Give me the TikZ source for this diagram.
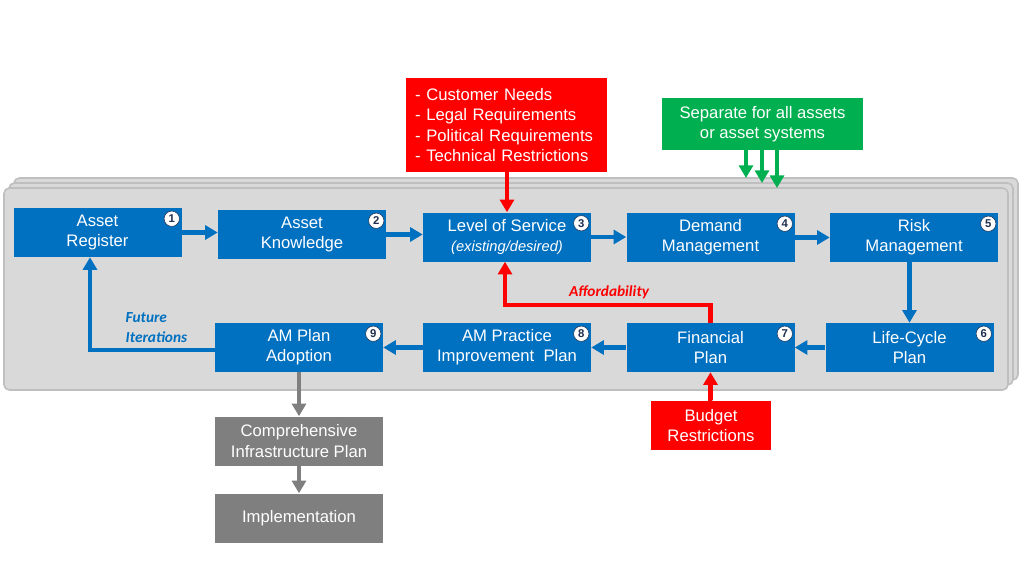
\documentclass[tikz,border=0pt]{standalone}
\usepackage{fontspec}
\setmainfont{Liberation Sans}
\newfontfamily\calfont{Carlito}
\usetikzlibrary{arrows.meta}
\definecolor{mblue}{HTML}{0070C0}
\definecolor{mred}{HTML}{FF0000}
\definecolor{mgreen}{HTML}{00B050}
\definecolor{mgray}{HTML}{7F7F7F}
\definecolor{panelfill}{HTML}{D9D9D9}
\definecolor{panelline}{HTML}{BFBFBF}
\definecolor{numcol}{HTML}{1F2D4E}
\begin{document}
\begin{tikzpicture}[x=0.75pt,y=-0.75pt,
  box/.style={fill=mblue,text=white,minimum width=126pt,minimum height=36.75pt,inner sep=0pt,align=center,font=\fontsize{12.5}{15.2}\selectfont},
  graybox/.style={box,fill=mgray},
  redbox/.style={box,fill=mred},
  numc/.style={circle,fill=white,draw=numcol,line width=0.4pt,inner sep=0pt,minimum size=11.5pt,text=numcol,font=\fontsize{8.5}{8.5}\selectfont\bfseries},
  panel/.style={fill=panelfill,draw=panelline,line width=1.2pt,rounded corners=4pt},
  barrow/.style={draw=mblue,line width=3.4pt,-{Triangle[width=10.5pt,length=9.5pt]}},
  rarrow/.style={draw=mred,line width=3.4pt,-{Triangle[width=10.5pt,length=9.5pt]}},
  garrow/.style={draw=mgray,line width=3.4pt,-{Triangle[width=10.5pt,length=9.5pt]}},
  grarrow/.style={draw=mgreen,line width=3pt,-{Triangle[width=10.5pt,length=9.5pt]}},
  lbl/.style={font=\calfont\bfseries\itshape\fontsize{11.5}{15.5}\selectfont}
]
\useasboundingbox (0,0) rectangle (1024,576);
% stacked panels
\path[panel] (14,178) rectangle (1018,380);
\path[panel] (9,183) rectangle (1013,385);
\path[panel] (4,188) rectangle (1008,390);

% blue boxes
\node[box] (b1) at (97.5,232.5) {Asset\\Register};
\node[box] (b2) at (302,234.5) {Asset\\Knowledge};
\node[box] (b3) at (507,237) {Level of Service\\{\fontsize{11}{15}\selectfont\itshape (existing/desired)}};
\node[box] (b4) at (710.5,237.5) {Demand\\Management};
\node[box] (b5) at (914,237.5) {Risk\\Management};
\node[box] (b6) at (909.5,347.5) {Life-Cycle\\Plan};
\node[box] (b7) at (710.5,347.5) {Financial\\Plan};
\node[box] (b8) at (507,347.5) {AM Practice\\Improvement\ \ Plan};
\node[box] (b9) at (299,347.5) {AM Plan\\Adoption};

% number circles
\foreach \i in {1,...,9}{
  \node[numc] (n\i) at ([xshift=-7.5pt,yshift=-8.25pt]b\i.north east) {\i};
}

% gray boxes
\node[graybox] (cip) at (299,441) {Comprehensive\\Infrastructure\ Plan};
\node[graybox] (impl) at (299,518) {Implementation};

% red boxes
\node[redbox,minimum width=0pt,text width=137pt,inner xsep=6.75pt,minimum height=70.5pt,align=left,font=\fontsize{12.5}{15.4}\selectfont] (req) at (506.5,125)
  {- Customer\ Needs\\- Legal Requirements\\- Political Requirements\\- Technical Restrictions};
\node[redbox,minimum width=90pt,minimum height=36.75pt] (bud) at (711,425.5) {Budget\\Restrictions};

% green box
\node[box,fill=mgreen,minimum width=150.75pt,minimum height=39pt] (sep) at (762.5,124) {Separate for all assets\\or asset systems};

% blue flow
\draw[barrow] (b1.east) -- (b1.east -| b2.west);
\draw[barrow] (b2.east) -- (b2.east -| b3.west);
\draw[barrow] (b3.east) -- (b3.east -| b4.west);
\draw[barrow] (b4.east) -- (b4.east -| b5.west);
\draw[barrow] (b5.south -| b6.north) -- (b6.north);
\draw[barrow] (b6.west) -- (b6.west -| b7.east);
\draw[barrow] (b7.west) -- (b7.west -| b8.east);
\draw[barrow] (b8.west) -- (b8.west -| b9.east);
\coordinate (fi) at (90,350);
\draw[barrow] (b9.west |- fi) -- (fi) -- (fi |- b1.south);
\node[lbl,text=mblue,align=left,anchor=west] (fitext) at (121,327.5) {Future\\Iterations};

% red arrows
\draw[rarrow] (req.south -| b3.north) -- (b3.north);
\coordinate (aff) at (505,305);
\draw[rarrow] (b7.north) -- (b7.north |- aff) -- (aff) -- (aff |- b3.south);
\node[lbl,text=mred] (afftext) at (609,292) {Affordability};
\draw[rarrow] (bud.north) -- (bud.north -| b7.south) -- (b7.south);

% green arrows
\coordinate (g1) at (746,178);
\coordinate (g2) at (762,183);
\coordinate (g3) at (777,188);
\draw[grarrow] (sep.south -| g1) -- (g1);
\draw[grarrow] (sep.south -| g2) -- (g2);
\draw[grarrow] (sep.south -| g3) -- (g3);

% gray arrows
\draw[garrow] (b9.south) -- (cip.north);
\draw[garrow] (cip.south) -- (impl.north);
\end{tikzpicture}
\end{document}
